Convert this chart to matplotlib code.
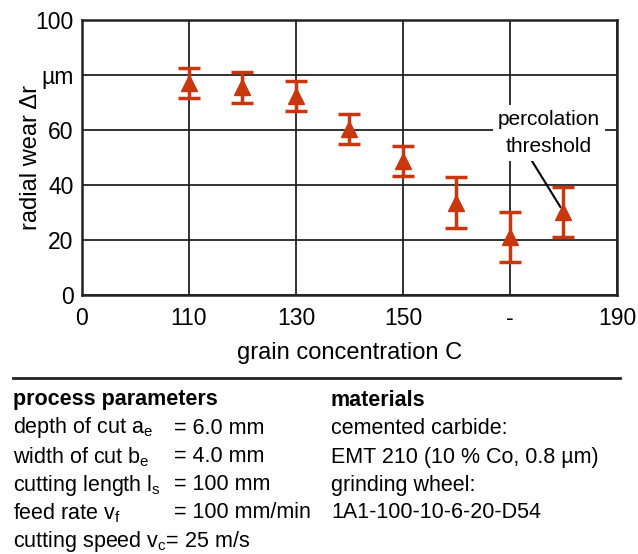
import matplotlib
matplotlib.use("Agg")
import matplotlib.pyplot as plt

plt.rcParams['font.family'] = ['Liberation Sans', 'DejaVu Sans']
plt.rcParams['mathtext.fontset'] = 'custom'
plt.rcParams['mathtext.rm'] = 'Liberation Sans'
plt.rcParams['mathtext.it'] = 'Liberation Sans'

# data
concentration = [110, 120, 130, 140, 150, 160, 170, 180]
wear = [77, 75.5, 72.5, 60.3, 48.8, 33.6, 21, 30.2]
wear_err = [5.5, 5.5, 5.5, 5.5, 5.5, 9.4, 9.1, 9]
x_ticks = [90, 110, 130, 150, 170, 190]
x_ticklabels = ['0', '110', '130', '150', '-', '190']
y_ticks = [0, 20, 40, 60, 80, 100]
y_ticklabels = ['0', '20', '40', '60', 'µm', '100']

red = '#c9370f'

fig = plt.figure(figsize=(6.38, 5.54), dpi=100)
ax = fig.add_axes([0.1285, 0.4675, 0.967 - 0.1285, 0.9639 - 0.4675])

ax.errorbar(concentration, wear, yerr=wear_err, fmt='^', color=red, ecolor=red,
            markersize=11, elinewidth=2.5, capsize=8, capthick=2.5, zorder=5)

ax.set_xlim(90, 190)
ax.set_ylim(0, 100)
ax.set_xticks(x_ticks)
ax.set_xticklabels(x_ticklabels, fontsize=16.5)
ax.set_yticks(y_ticks)
ax.set_yticklabels(y_ticklabels, fontsize=16.5)
ax.tick_params(axis='y', length=0, pad=6)
ax.tick_params(axis='x', length=0, pad=8.5)
ax.grid(True, color='#222222', linewidth=1.3)
ax.set_axisbelow(True)
for s in ax.spines.values():
    s.set_linewidth(1.8)
    s.set_color('#222222')

ax.set_xlabel('grain concentration C', fontsize=17, labelpad=9)
ax.set_ylabel('radial wear Δr', fontsize=17, labelpad=-4.5)

ax.annotate('percolation\nthreshold', xy=(180, 30.2), xytext=(177.3, 59.0),
            ha='center', va='center', fontsize=15, linespacing=1.5,
            bbox=dict(boxstyle='square,pad=0.25', fc='white', ec='none'),
            arrowprops=dict(arrowstyle='-', color='black', lw=1.5,
                            shrinkA=0, shrinkB=4, relpos=(0.3, 0.0)),
            zorder=4)

# bottom text panel
fig.add_artist(plt.Line2D([13/638, 620/638], [1 - 378/554, 1 - 378/554],
                          color='#222222', lw=2))

fs = 15.5
rows_y = [428, 457, 485, 513, 542]
left_labels = ['depth of cut a$_{\\mathrm{e}}$', 'width of cut b$_{\\mathrm{e}}$',
               'cutting length l$_{\\mathrm{s}}$', 'feed rate v$_{\\mathrm{f}}$']
left_values = ['= 6.0 mm', '= 4.0 mm', '= 100 mm', '= 100 mm/min']
right_lines = ['cemented carbide:', 'EMT 210 (10 % Co, 0.8 µm)', 'grinding wheel:',
               '1A1-100-10-6-20-D54']

fig.text(13/638, 1 - 400/554, 'process parameters', fontsize=fs, fontweight='bold',
         va='center', ha='left')
fig.text(331/638, 1 - 400/554, 'materials', fontsize=fs, fontweight='bold',
         va='center', ha='left')
for i, (lab, val) in enumerate(zip(left_labels, left_values)):
    y = 1 - rows_y[i] / 554
    fig.text(13/638, y, lab, fontsize=fs, va='center', ha='left')
    fig.text(174/638, y, val, fontsize=fs, va='center', ha='left')
for i, t in enumerate(right_lines):
    fig.text(331/638, 1 - rows_y[i] / 554, t, fontsize=fs, va='center', ha='left')
fig.text(13/638, 1 - rows_y[4] / 554, 'cutting speed v$_{\\mathrm{c}}$= 25 m/s',
         fontsize=fs, va='center', ha='left')

fig.savefig('out.png', dpi=100, facecolor='white')
